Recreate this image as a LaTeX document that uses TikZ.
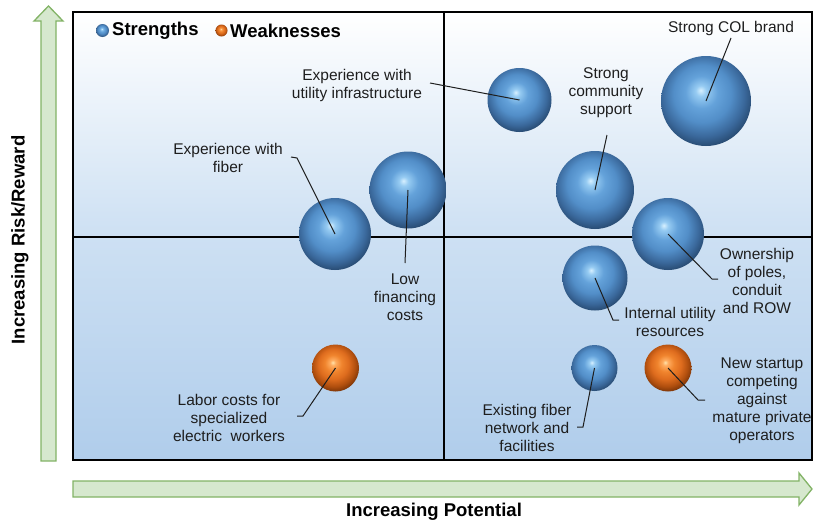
\documentclass[tikz,border=0pt]{standalone}
\usepackage{fontspec}
\setmainfont{Liberation Sans}
\definecolor{arrowfill}{RGB}{214,232,206}
\definecolor{arrowline}{RGB}{130,179,102}
\definecolor{bgbot}{RGB}{176,205,235}
\definecolor{txt}{RGB}{30,30,30}
\definecolor{bA}{RGB}{215,240,255}
\definecolor{bB}{RGB}{150,203,242}
\definecolor{bC}{RGB}{100,162,218}
\definecolor{bD}{RGB}{82,142,200}
\definecolor{bE}{RGB}{58,104,155}
\definecolor{bF}{RGB}{32,62,96}
\definecolor{oA}{RGB}{255,226,170}
\definecolor{oB}{RGB}{255,172,95}
\definecolor{oC}{RGB}{240,132,45}
\definecolor{oD}{RGB}{222,108,30}
\definecolor{oE}{RGB}{175,78,14}
\definecolor{oF}{RGB}{100,42,6}
\pgfdeclareradialshading{bluesphere}{\pgfpoint{-3bp}{6bp}}{color(0bp)=(bA); color(3bp)=(bB); color(9bp)=(bC); color(16bp)=(bD); color(23bp)=(bE); color(30bp)=(bF); color(50bp)=(bF)}
\pgfdeclareradialshading{orangesphere}{\pgfpoint{-3bp}{6bp}}{color(0bp)=(oA); color(3bp)=(oB); color(9bp)=(oC); color(16bp)=(oD); color(23bp)=(oE); color(30bp)=(oF); color(50bp)=(oF)}
\begin{document}
\begin{tikzpicture}[x=1pt,y=-1pt,
  lbl/.style={align=center,text=txt,inner sep=0pt,font=\fontsize{15.5}{18}\selectfont},
  axislbl/.style={text=black,inner sep=0pt,font=\bfseries\fontsize{18.5}{20}\selectfont},
  sphere/.style={circle,inner sep=0pt,draw=none,minimum size=#1},
  blueball/.style={shading=bluesphere},
  orangeball/.style={shading=orangesphere},
  leader/.style={draw=txt,line width=1pt},
  greenarrow/.style={fill=arrowfill,draw=arrowline,line width=1.3pt}]
\useasboundingbox (0,0) rectangle (813,522);
% background
\shade[top color=white,bottom color=bgbot,middle color={rgb,255:red,205;green,224;blue,243}] (73,12) rectangle (812,460);
\draw[line width=1.5pt] (444,12) -- (444,460);
\draw[line width=1.5pt] (73,237) -- (812,237);
\draw[line width=2pt] (73,12) rectangle (812,460);
% axis arrows
\draw[greenarrow] (41,461) -- (41,21) -- (34,21) -- (48.5,6) -- (63,21) -- (56,21) -- (56,461) -- cycle;
\draw[greenarrow] (73,481) -- (799,481) -- (799,473) -- (812,489) -- (799,505) -- (799,497) -- (73,497) -- cycle;
\node[axislbl,rotate=90] (ylab) at (20,240) {Increasing Risk/Reward};
\node[axislbl] (xlab) at (434,512) {Increasing Potential};
% legend
\node[sphere=13pt,blueball] (lgs) at (102.5,30.5) {};
\node[axislbl,anchor=west] (lgst) at (112,30.5) {Strengths};
\node[sphere=12pt,orangeball] (lgw) at (221.5,30.5) {};
\node[axislbl,anchor=west] (lgwt) at (230,30.5) {Weaknesses};
% spheres
\node[sphere=72pt,blueball] (fiber) at (335,234) {};
\node[sphere=77pt,blueball] (lowfin) at (408,190) {};
\node[sphere=64pt,blueball] (infra) at (519.5,100) {};
\node[sphere=90pt,blueball] (col) at (706,101) {};
\node[sphere=78pt,blueball] (comm) at (595,190) {};
\node[sphere=72pt,blueball] (own) at (668,234) {};
\node[sphere=65pt,blueball] (internal) at (595,278) {};
\node[sphere=46pt,blueball] (exist) at (594.5,368) {};
\node[sphere=47pt,orangeball] (startup) at (668,368) {};
\node[sphere=47pt,orangeball] (labor) at (335.5,368) {};
% labels
\node[lbl] (tfiber) at (228,158) {Experience with\\fiber};
\node[lbl] (tinfra) at (357,85) {Experience with\\utility infrastructure};
\node[lbl] (tcomm) at (606,92.5) {Strong\\community\\support};
\node[lbl] (tcol) at (731,28) {Strong COL brand};
\node[lbl] (tlow) at (405,297) {Low\\financing\\costs};
\node[lbl] (town) at (757,281) {Ownership\\of poles,\\conduit\\and ROW};
\node[lbl] (tint) at (670,322) {Internal utility\\resources};
\node[lbl] (texist) at (527,428) {Existing fiber\\network and\\facilities};
\node[lbl] (tstart) at (762,401) {New startup\\competing\\against\\mature private\\operators};
\node[lbl] (tlabor) at (229,418) {Labor costs for\\specialized\\electric\ \ workers};
% leader coordinates
\coordinate (e1a) at (291,157); \coordinate (e1b) at (297,158);
\coordinate (e2) at (430,83);
\coordinate (e3) at (607,135);
\coordinate (e4) at (731,38);
\coordinate (e5) at (405,263);
\coordinate (e6a) at (712,279); \coordinate (e6b) at (718,279);
\coordinate (e7a) at (613,320); \coordinate (e7b) at (619,320);
\coordinate (e8a) at (583,427); \coordinate (e8b) at (577,427);
\coordinate (e9a) at (698,400); \coordinate (e9b) at (705,400);
\coordinate (e10a) at (303,416); \coordinate (e10b) at (297,416);
% leaders
\draw[leader] (fiber.center) -- (e1b) -- (e1a);
\draw[leader] (infra.center) -- (e2);
\draw[leader] (comm.center) -- (e3);
\draw[leader] (col.center) -- (e4);
\draw[leader] (lowfin.center) -- (e5);
\draw[leader] (own.center) -- (e6a) -- (e6b);
\draw[leader] (internal.center) -- (e7a) -- (e7b);
\draw[leader] (exist.center) -- (e8a) -- (e8b);
\draw[leader] (startup.center) -- (e9a) -- (e9b);
\draw[leader] (labor.center) -- (e10a) -- (e10b);
\end{tikzpicture}
\end{document}
